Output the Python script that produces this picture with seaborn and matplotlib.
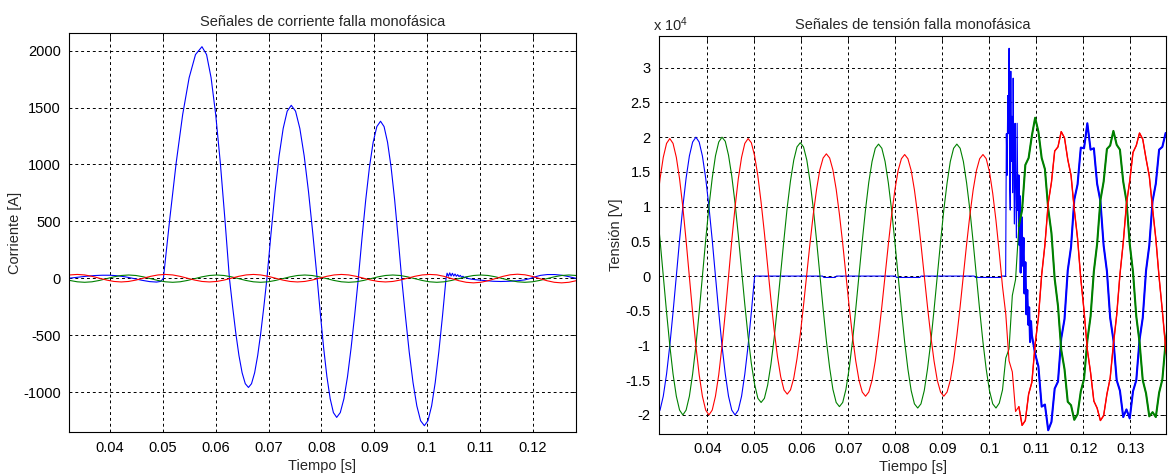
import matplotlib
matplotlib.use("Agg")
import matplotlib.pyplot as plt
import seaborn as sns
from matplotlib.ticker import FuncFormatter, FixedLocator

# ---------------- data: currents [A] ----------------
CUR_T = [0.03102, 0.03241, 0.03380, 0.03519, 0.03658, 0.03797, 0.03936, 0.04074, 0.04213, 0.04352,
         0.04491, 0.04630, 0.04769, 0.04908, 0.05047, 0.05186, 0.05324, 0.05463, 0.05602, 0.05741,
         0.05880, 0.06019, 0.06158, 0.06297, 0.06436, 0.06574, 0.06713, 0.06852, 0.06991, 0.07130,
         0.07269, 0.07408, 0.07547, 0.07686, 0.07824, 0.07963, 0.08102, 0.08241, 0.08380, 0.08519,
         0.08658, 0.08797, 0.08936, 0.09074, 0.09213, 0.09352, 0.09491, 0.09630, 0.09769, 0.09908,
         0.10047, 0.10186, 0.10324, 0.10463, 0.10602, 0.10741, 0.10880, 0.11019, 0.11158, 0.11297,
         0.11436, 0.11574, 0.11713, 0.11852, 0.11991, 0.12130, 0.12269, 0.12408, 0.12547, 0.12686,
         0.12824]
CUR_C = [17.5, 29.6, 34, 29.6, 17.5, 1, -15.5, -27.6, -32, -27.6,
         -15.5, 1, 17.5, 29.6, 34, 29.6, 17.5, 1, -15.5, -27.6,
         -32, -27.6, -15.5, 1, 17.5, 29.6, 34, 29.6, 17.5, 1,
         -15.5, -27.6, -32, -27.6, -15.5, 1, 17.5, 29.6, 34, 29.6,
         17.5, 1, -15.5, -27.6, -32, -27.6, -15.5, 1, 17.5, 29.6,
         34, 30.5, 17, -2, -21, -34.9, -40, -34.9, -21, -2,
         17, 30.9, 36, 30.9, 17, -2, -21, -34.9, -40, -34.9,
         -21]
CUR_B = [-3, -19, -30.7, -35, -30.7, -19, -3, 13, 24.7, 29,
         24.7, 13, -3, -19, -30.7, -35, -30.7, -19, -3, 13,
         24.7, 29, 24.7, 13, -3, -19, -30.7, -35, -30.7, -19,
         -3, 13, 24.7, 29, 24.7, 13, -3, -19, -30.7, -35,
         -30.7, -19, -3, 13, 24.7, 29, 24.7, 13, -3, -19,
         -30.7, -35, -30.7, -19, -3, 13, 24.7, 29, 24.7, 13,
         -3, -19, -30.7, -35, -30.7, -19, -3, 13, 24.7, 29,
         24.7]
CUR_A_T = [0.0310, 0.0325, 0.0340, 0.0355, 0.0370, 0.0385, 0.0400, 0.0415, 0.0430, 0.0445,
           0.0460, 0.0475, 0.0488, 0.0496,
           0.0501, 0.05132, 0.05253, 0.05375, 0.05497, 0.05618, 0.0574, 0.05827, 0.05913, 0.0600,
           0.06087, 0.06173, 0.0626, 0.0632, 0.0638, 0.0644, 0.0650, 0.0656, 0.0662, 0.06678,
           0.06737, 0.06795, 0.06853, 0.06912, 0.0697, 0.07047, 0.07123, 0.0720, 0.07277, 0.07353,
           0.0743, 0.07512, 0.07593, 0.07675, 0.07757, 0.07838, 0.0792, 0.07982, 0.08043, 0.08105,
           0.08167, 0.08228, 0.0829, 0.08358, 0.08427, 0.08495, 0.08563, 0.08632, 0.0870, 0.0877,
           0.0884, 0.0891, 0.0898, 0.0905, 0.0912, 0.09187, 0.09253, 0.0932, 0.09387, 0.09453,
           0.0952, 0.09592, 0.09663, 0.09735, 0.09807, 0.09878, 0.0995, 0.10018, 0.10087, 0.10155,
           0.10223, 0.10292, 0.1036,
           0.1038, 0.10405, 0.1043, 0.10455, 0.1048, 0.10505, 0.1053, 0.10555, 0.1058, 0.10605,
           0.1063, 0.10655, 0.1068, 0.1071, 0.1074, 0.1078, 0.1085, 0.1095, 0.1110, 0.1125,
           0.1140, 0.1155, 0.1170, 0.1185, 0.1195, 0.1205, 0.1215, 0.1228, 0.1242, 0.1255,
           0.1268, 0.1280, 0.1290]
CUR_A = [-4, 2, 10, 18, 24, 27, 27, 22, 12, -2,
         -17, -29, -33, -27,
         0, 527, 1018, 1439, 1762, 1966, 2035, 1966, 1762, 1439,
         1018, 527, 0, -248, -480, -678, -830, -926, -959, -926,
         -830, -678, -480, -248, 0, 394, 760, 1075, 1316, 1468,
         1520, 1468, 1316, 1075, 760, 394, 0, -317, -611, -864,
         -1058, -1180, -1222, -1180, -1058, -864, -611, -317, 0, 357,
         690, 976, 1195, 1333, 1380, 1333, 1195, 976, 690, 357,
         0, -335, -648, -916, -1121, -1251, -1295, -1251, -1121, -916,
         -648, -335, 0,
         45, 18, 48, 20, 44, 20, 38, 18, 32, 15,
         26, 10, 18, 4, 10, -2, -8, -14, -20, -26,
         -28, -26, -22, -14, -2, 14, 26, 33, 33, 27,
         15, 2, -8]

# ---------------- data: voltages [x 1e4 V] ----------------
VOLT_T = [0.02922, 0.02992, 0.03061, 0.03131, 0.03200, 0.03269, 0.03339, 0.03408, 0.03478, 0.03547,
          0.03617, 0.03686, 0.03756, 0.03825, 0.03894, 0.03964, 0.04033, 0.04103, 0.04172, 0.04242,
          0.04311, 0.04381, 0.04450, 0.04519, 0.04589, 0.04658, 0.04728, 0.04797, 0.04867, 0.04936,
          0.05006, 0.05075, 0.05144, 0.05214, 0.05283, 0.05353, 0.05422, 0.05492, 0.05561, 0.05631,
          0.05700, 0.05769, 0.05839, 0.05908, 0.05978, 0.06047, 0.06117, 0.06186, 0.06256, 0.06325,
          0.06394, 0.06464, 0.06533, 0.06603, 0.06672, 0.06742, 0.06811, 0.06881, 0.06950, 0.07019,
          0.07089, 0.07158, 0.07228, 0.07297, 0.07367, 0.07436, 0.07506, 0.07575, 0.07644, 0.07714,
          0.07783, 0.07853, 0.07922, 0.07992, 0.08061, 0.08131, 0.08200, 0.08269, 0.08339, 0.08408,
          0.08478, 0.08547, 0.08617, 0.08686, 0.08756, 0.08825, 0.08894, 0.08964, 0.09033, 0.09103,
          0.09172, 0.09242, 0.09311, 0.09381, 0.09450, 0.09519, 0.09589, 0.09658, 0.09728, 0.09797,
          0.09867, 0.09936, 0.10006, 0.10075, 0.10144, 0.10214, 0.10283, 0.10353, 0.10422, 0.10492,
          0.10561, 0.10631, 0.10700, 0.10769, 0.10839, 0.10908, 0.10978, 0.11047, 0.11117, 0.11186,
          0.11256, 0.11325, 0.11394, 0.11464, 0.11533, 0.11603, 0.11672, 0.11742, 0.11811, 0.11881,
          0.11950, 0.12019, 0.12089, 0.12158, 0.12228, 0.12297, 0.12367, 0.12436, 0.12506, 0.12575,
          0.12644, 0.12714, 0.12783, 0.12853, 0.12922, 0.12992, 0.13061, 0.13131, 0.13200, 0.13269,
          0.13339, 0.13408, 0.13478, 0.13547, 0.13617, 0.13686, 0.13756, 0.13825]
VOLT_C = [0.99, 1.40, 1.71, 1.91, 1.98,
          1.91, 1.71, 1.40, 0.99, 0.51, -0.01, -0.53, -1.01, -1.42, -1.73, -1.93, -2.00,
          -1.93, -1.73, -1.42, -1.01, -0.53, -0.01, 0.51, 0.99, 1.40, 1.71, 1.91, 1.98,
          1.92, 1.73, 1.44, 1.06, 0.62, 0.14, -0.34, -0.78, -1.16, -1.45, -1.64, -1.70,
          -1.64, -1.47, -1.19, -0.84, -0.42, 0.03, 0.48, 0.90, 1.25, 1.53, 1.70, 1.76,
          1.70, 1.53, 1.25, 0.89, 0.47, 0.02, -0.44, -0.86, -1.22, -1.50, -1.67, -1.73,
          -1.67, -1.50, -1.22, -0.86, -0.44, 0.01, 0.46, 0.88, 1.24, 1.52, 1.69, 1.75,
          1.69, 1.52, 1.24, 0.88, 0.46, 0.01, -0.44, -0.86, -1.22, -1.50, -1.67, -1.73,
          -1.67, -1.50, -1.22, -0.86, -0.44, 0.01, 0.46, 0.88, 1.24, 1.52, 1.69, 1.75,
          1.69, 1.50, 1.19, 0.80, 0.34, -0.15, -0.55, -1.22, -1.38, -1.95, -1.88, -2.15,
          -2.08, -1.70, -1.53, -0.98, -0.60, 0.02, 0.45, 1.05, 1.35, 1.80, 1.86, 2.08,
          1.99, 1.68, 1.45, 0.96, 0.54, -0.04, -0.50, -1.06, -1.39, -1.80, -1.90, -2.08,
          -2.01, -1.70, -1.47, -0.98, -0.56, 0.02, 0.48, 1.04, 1.37, 1.78, 1.88, 2.06,
          1.97, 1.69, 1.44, 0.97, 0.54, -0.02, -0.50, -1.03, -1.39]
VOLT_B = [1.00, 0.52, 0.00, -0.52, -1.00, -1.41, -1.73, -1.93, -2.00,
          -1.93, -1.73, -1.41, -1.00, -0.52, 0.00, 0.52, 1.00, 1.41, 1.73, 1.93, 2.00,
          1.94, 1.74, 1.44, 1.05, 0.59, 0.09, -0.41, -0.87, -1.26, -1.56, -1.76, -1.82,
          -1.76, -1.57, -1.27, -0.89, -0.43, 0.05, 0.53, 0.99, 1.37, 1.67, 1.86, 1.92,
          1.86, 1.67, 1.36, 0.97, 0.51, 0.02, -0.47, -0.93, -1.32, -1.63, -1.82, -1.88,
          -1.82, -1.63, -1.33, -0.94, -0.48, 0.01, 0.50, 0.96, 1.35, 1.65, 1.84, 1.90,
          1.84, 1.65, 1.34, 0.95, 0.49, 0.00, -0.49, -0.95, -1.34, -1.65, -1.84, -1.90,
          -1.84, -1.65, -1.34, -0.95, -0.49, 0.00, 0.49, 0.95, 1.34, 1.65, 1.84, 1.90,
          1.84, 1.65, 1.34, 0.95, 0.49, 0.00, -0.49, -0.95, -1.34, -1.65, -1.84, -1.90,
          -1.83, -1.64, -1.18, -1.05, -0.28, -0.05, 0.72, 0.95, 1.60, 1.70, 2.02, 2.28,
          2.08, 1.70, 1.54, 0.97, 0.62, -0.04, -0.43, -1.06, -1.34, -1.81, -1.86, -2.07,
          -1.99, -1.66, -1.48, -0.93, -0.58, 0.07, 0.46, 1.09, 1.36, 1.83, 1.88, 2.09,
          1.89, 1.82, 1.36, 1.08, 0.46, 0.06, -0.58, -0.95, -1.50, -1.69, -2.02, -1.96,
          -2.03, -1.68, -1.49, -0.95, -0.58]
VOLT_A_T = [0.02922, 0.02992, 0.03061, 0.03131, 0.03200, 0.03269, 0.03339, 0.03408, 0.03478, 0.03547,
            0.03617, 0.03686, 0.03756, 0.03825, 0.03894, 0.03964, 0.04033, 0.04103, 0.04172, 0.04242,
            0.04311, 0.04381, 0.04450, 0.04519, 0.04589, 0.04658, 0.04728, 0.04797, 0.04867, 0.04936,
            0.05006,
            0.0645, 0.0648, 0.0672, 0.0675, 0.0800, 0.0803, 0.0852, 0.0855, 0.0968, 0.0971,
            0.1024, 0.1027, 0.1035,
            0.10365, 0.10380, 0.10395, 0.10410, 0.10423, 0.10436, 0.10448, 0.10460, 0.10472, 0.10485,
            0.10498, 0.10510, 0.10523, 0.10537, 0.10550, 0.10565, 0.10580, 0.10595, 0.10610, 0.10625,
            0.10640, 0.10655, 0.10670, 0.10690, 0.10710, 0.10730, 0.10750, 0.10770, 0.10790, 0.10810,
            0.10830, 0.10850, 0.10870, 0.10890, 0.10908,
            0.10978, 0.11047, 0.11117, 0.11186, 0.11256, 0.11325, 0.11394, 0.11464, 0.11533, 0.11603,
            0.11672, 0.11742, 0.11811, 0.11881, 0.11950, 0.12019, 0.12089, 0.12158, 0.12228, 0.12297,
            0.12367, 0.12436, 0.12506, 0.12575, 0.12644, 0.12714, 0.12783, 0.12853, 0.12922, 0.12992,
            0.13061, 0.13131, 0.13200, 0.13269, 0.13339, 0.13408, 0.13478, 0.13547, 0.13617, 0.13686,
            0.13756, 0.13825]
VOLT_A = [-2.00, -1.93, -1.73, -1.41, -1.00, -0.52, 0.00, 0.52, 1.00, 1.41,
          1.73, 1.93, 2.00, 1.93, 1.73, 1.41, 1.00, 0.52, 0.00, -0.52,
          -1.00, -1.41, -1.73, -1.93, -2.00, -1.93, -1.73, -1.41, -1.00, -0.52,
          0.00,
          0.00, -0.02, -0.02, 0.00, 0.00, -0.02, -0.02, 0.00, 0.00, -0.02,
          -0.02, 0.00, 0.00,
          2.05, 1.45, 2.60, 2.05, 3.28, 1.30, 0.95, 2.95, 1.65, 2.30,
          1.20, 2.85, 1.55, 0.75, 2.20, 1.30, 0.55, 2.20, 0.95, 1.45,
          0.45, 1.15, 0.05, 0.85, 0.15, 0.55, -0.25, 0.20, -0.55, -0.20,
          -0.70, -0.45, -0.95, -0.65, -0.85,
          -1.12, -1.30, -1.88, -1.85, -2.22, -2.10, -1.62, -1.52, -0.90, -0.62,
          0.08, 0.42, 1.10, 1.32, 1.85, 1.84, 2.20, 1.82, 1.84, 1.33,
          1.08, 0.44, 0.07, -0.60, -0.92, -1.50, -1.65, -2.03, -1.92, -2.05,
          -1.66, -1.50, -0.92, -0.60, 0.08, 0.44, 1.08, 1.33, 1.82, 1.86,
          2.06, 1.98]

FAULT_CLEAR = 0.1035   # instant after which the voltage signals become noisy

CUR_XTICKS = [0.04, 0.05, 0.06, 0.07, 0.08, 0.09, 0.10, 0.11, 0.12]
CUR_YTICKS = [-1000, -500, 0, 500, 1000, 1500, 2000]
VOLT_XTICKS = [0.04, 0.05, 0.06, 0.07, 0.08, 0.09, 0.10, 0.11, 0.12, 0.13]
VOLT_YTICKS = [-2, -1.5, -1, -0.5, 0, 0.5, 1, 1.5, 2, 2.5, 3]

COL_A, COL_B, COL_C = "#0000ff", "#008000", "#ff0000"

# ---------------- style ----------------
sns.set_style("white")
plt.rcParams["font.family"] = ["Liberation Sans", "DejaVu Sans"]
plt.rcParams["axes.unicode_minus"] = False
plt.rcParams["mathtext.fontset"] = "custom"
plt.rcParams["mathtext.rm"] = "Liberation Sans"
plt.rcParams["mathtext.it"] = "Liberation Sans:italic"

FS = 10.5

fig = plt.figure(figsize=(11.68, 4.76), dpi=100)
fig.patch.set_facecolor("white")
ax1 = fig.add_axes([0.05933, 0.09181, 0.43356, 0.8395])
ax2 = fig.add_axes([0.56421, 0.08824, 0.43433, 0.83676])


def draw(ax, t, y, color, lw=0.8):
    sns.lineplot(x=t, y=y, ax=ax, color=color, linewidth=lw,
                 sort=False, estimator=None, legend=False)


def draw_noisy(ax, t, y, color, lw_after):
    """Thin trace, with the noisy post-fault part drawn heavier."""
    draw(ax, t, y, color)
    post = [(a, b) for a, b in zip(t, y) if a >= FAULT_CLEAR + 0.0025]
    draw(ax, [p[0] for p in post], [p[1] for p in post], color, lw=lw_after)


draw(ax1, CUR_A_T, CUR_A, COL_A)
draw(ax1, CUR_T, CUR_B, COL_B)
draw(ax1, CUR_T, CUR_C, COL_C)

draw_noisy(ax2, VOLT_A_T, VOLT_A, COL_A, 1.5)
draw_noisy(ax2, VOLT_T, VOLT_B, COL_B, 1.5)
draw_noisy(ax2, VOLT_T, VOLT_C, COL_C, 1.0)

fmt = FuncFormatter(lambda v, p: f"{v:g}")

for ax in (ax1, ax2):
    ax.set_facecolor("white")
    ax.grid(True, color="black", linestyle=(0, (3, 3)), linewidth=0.7)
    ax.set_axisbelow(True)
    for s in ax.spines.values():
        s.set_color("black")
        s.set_linewidth(0.8)
        s.set_visible(True)
    ax.tick_params(direction="in", length=4, width=0.6, top=True, right=True,
                   labelsize=FS, pad=6, colors="black")
    ax.xaxis.set_major_formatter(fmt)
    ax.yaxis.set_major_formatter(fmt)

ax1.xaxis.set_major_locator(FixedLocator(CUR_XTICKS))
ax1.yaxis.set_major_locator(FixedLocator(CUR_YTICKS))
ax1.set_xlim(0.03229, 0.12814)
ax1.set_ylim(-1353, 2158)
ax1.set_title("Señales de corriente falla monofásica", fontsize=FS, pad=5)
ax1.set_xlabel("Tiempo [s]", fontsize=FS, labelpad=3)
ax1.set_ylabel("Corriente [A]", fontsize=FS, labelpad=1)

ax2.xaxis.set_major_locator(FixedLocator(VOLT_XTICKS))
ax2.yaxis.set_major_locator(FixedLocator(VOLT_YTICKS))
ax2.set_xlim(0.0297, 0.1377)
ax2.set_ylim(-2.274, 3.461)
ax2.set_title("Señales de tensión falla monofásica", fontsize=FS, pad=5)
ax2.set_xlabel("Tiempo [s]", fontsize=FS, labelpad=3)
ax2.set_ylabel("Tensión [V]", fontsize=FS, labelpad=2)
ax2.text(-0.012, 1.013, r"x 10$^{\mathrm{4}}$", transform=ax2.transAxes,
         ha="left", va="baseline", fontsize=FS)

fig.savefig("out.png", dpi=100, facecolor="white")
